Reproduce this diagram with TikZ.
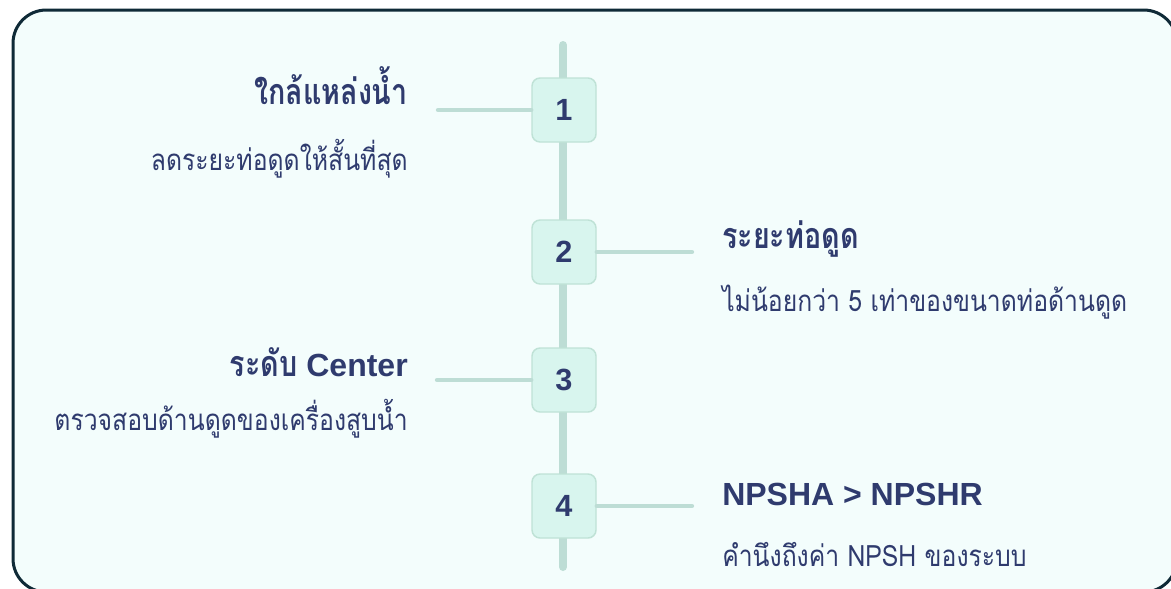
\documentclass[tikz,border=0pt]{standalone}
\usepackage{fontspec}
\setmainfont{Liberation Sans}
\newfontfamily\thaihead[Script=Thai,Scale=1.12,FakeStretch=0.8]{Loma}
\newfontfamily\thainote[Script=Thai,Scale=1.3,FakeStretch=0.84]{Loma}
\definecolor{ink}{HTML}{2F3B6E}
\definecolor{frame}{HTML}{0F2A37}
\definecolor{panel}{HTML}{F3FDFC}
\definecolor{spinec}{HTML}{BDDDD5}
\definecolor{boxfill}{HTML}{D8F5EE}
\definecolor{boxline}{HTML}{BFE2D6}
\tikzset{
  Stepbox/.style={draw=boxline, fill=boxfill, line width=1.1pt, rounded corners=6pt,
                  minimum width=48pt, minimum height=48pt, inner sep=0pt,
                  font=\bfseries\fontsize{23}{26}\selectfont, text=ink},
  Head/.style={inner sep=0pt, text=ink, font=\bfseries\fontsize{24}{28}\selectfont},
  Note/.style={inner sep=0pt, text=ink, font=\thainote\fontsize{17}{20}\selectfont},
  Spine/.style={draw=spinec, line width=6pt, line cap=round},
  Link/.style={draw=spinec, line width=3.2pt, line cap=round}
}
\begin{document}
\begin{tikzpicture}[x=0.75pt,y=-0.75pt]
  \useasboundingbox (0,0) rectangle (1171,589);
  \clip (0,0) rectangle (1171,589);
  \draw[draw=frame, fill=panel, line width=2.25pt, rounded corners=25pt]
    (13,10) rectangle (1177,592);

  \coordinate (top) at (563,45);
  \coordinate (bot) at (563,567);
  \draw[Spine] (top) -- (bot);

  \node[Stepbox] (s1) at (564,110) {1};
  \node[Stepbox] (s2) at (564,252) {2};
  \node[Stepbox] (s3) at (564,380) {3};
  \node[Stepbox] (s4) at (564,506) {4};

  \coordinate (e1) at (438,110);
  \coordinate (e2) at (692,252);
  \coordinate (e3) at (437,380);
  \coordinate (e4) at (692,506);
  \draw[Link] (s1.west) -- (e1);
  \draw[Link] (s2.east) -- (e2);
  \draw[Link] (s3.west) -- (e3);
  \draw[Link] (s4.east) -- (e4);

  \node[Head, anchor=base east] (h1) at (408,104) {\thaihead ใกล้แหล่งน้ำ};
  \node[Note, anchor=base east] (n1) at (408,170) {ลดระยะท่อดูดให้สั้นที่สุด};

  \node[Head, anchor=base west] (h2) at (722,248) {\thaihead ระยะท่อดูด};
  \node[Note, anchor=base west] (n2) at (722,311) {ไม่น้อยกว่า 5 เท่าของขนาดท่อด้านดูด};

  \node[Head, anchor=base east] (h3) at (408,376) {{\thaihead ระดับ} Center};
  \node[Note, anchor=base east] (n3) at (408,430) {ตรวจสอบด้านดูดของเครื่องสูบน้ำ};

  \node[Head, anchor=base west] (h4) at (722,505) {NPSHA > NPSHR};
  \node[Note, anchor=base west] (n4) at (722,566) {คำนึงถึงค่า NPSH ของระบบ};
\end{tikzpicture}
\end{document}
